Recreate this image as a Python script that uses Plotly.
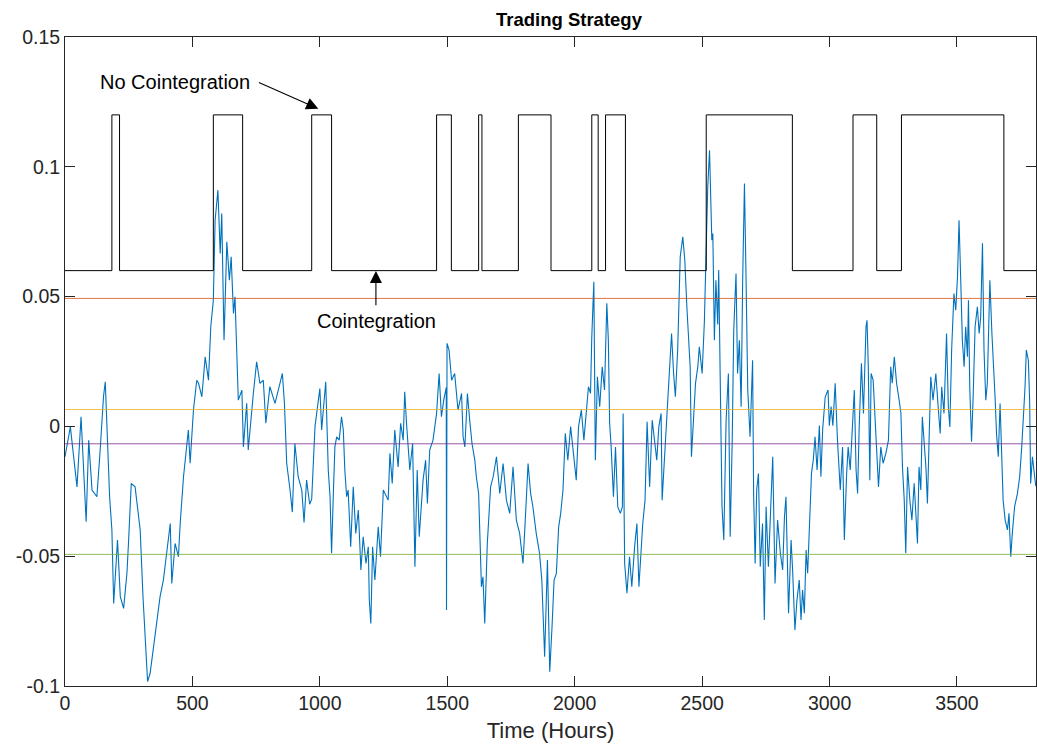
import plotly.graph_objects as go

# ---- data ----
hours = [0, 21, 47, 63, 83, 93, 106, 125, 138, 151, 158, 165, 175, 184, 191, 206, 217, 230, 243, 249,
         260, 275, 289, 295, 306, 315, 324, 334, 373, 386, 413, 419, 432, 445, 452, 465, 484, 491, 504, 517,
         524, 537, 550, 563, 572, 582, 589, 600, 609, 615, 624, 635, 645, 652, 661, 667, 674, 680, 694, 700,
         713, 719, 739, 752, 765, 778, 788, 804, 824, 837, 853, 861, 870, 883, 892, 902, 915, 929, 938, 948,
         960, 968, 981, 1000, 1007, 1023, 1033, 1040, 1046, 1053, 1059, 1066, 1076, 1085, 1092, 1098, 1105, 1111, 1121, 1131,
         1141, 1151, 1161, 1170, 1181, 1190, 1194, 1200, 1207, 1216, 1229, 1238, 1249, 1268, 1275, 1284, 1294, 1307, 1317, 1327,
         1333, 1340, 1353, 1364, 1373, 1382, 1390, 1405, 1415, 1422, 1431, 1444, 1458, 1468, 1477, 1486, 1496, 1497, 1499, 1507,
         1517, 1529, 1542, 1556, 1562, 1569, 1579, 1588, 1597, 1608, 1614, 1623, 1634, 1640, 1647, 1657, 1663, 1670, 1680, 1693,
         1706, 1719, 1732, 1745, 1758, 1771, 1784, 1797, 1806, 1817, 1827, 1836, 1849, 1862, 1871, 1882, 1893, 1902, 1911, 1919,
         1928, 1937, 1945, 1954, 1963, 1973, 1984, 1993, 2006, 2015, 2026, 2036, 2045, 2054, 2062, 2067, 2075, 2081, 2089, 2098,
         2108, 2117, 2126, 2132, 2137, 2143, 2152, 2160, 2169, 2179, 2187, 2190, 2196, 2205, 2215, 2224, 2235, 2244, 2252, 2261,
         2267, 2276, 2284, 2294, 2304, 2313, 2322, 2330, 2339, 2343, 2352, 2361, 2372, 2380, 2388, 2395, 2404, 2414, 2424, 2432,
         2440, 2447, 2453, 2458, 2466, 2474, 2483, 2489, 2500, 2509, 2516, 2522, 2529, 2538, 2542, 2548, 2554, 2561, 2565, 2571,
         2578, 2585, 2594, 2603, 2610, 2618, 2624, 2633, 2639, 2646, 2653, 2659, 2666, 2672, 2679, 2688, 2694, 2698, 2702, 2708,
         2714, 2721, 2728, 2737, 2744, 2751, 2760, 2768, 2777, 2786, 2796, 2807, 2816, 2823, 2829, 2839, 2849, 2855, 2864, 2872,
         2881, 2888, 2894, 2901, 2908, 2914, 2920, 2929, 2936, 2943, 2951, 2960, 2966, 2973, 2983, 2994, 2999, 3006, 3013, 3022,
         3031, 3042, 3051, 3058, 3067, 3073, 3081, 3090, 3097, 3104, 3110, 3116, 3125, 3133, 3143, 3147, 3152, 3158, 3163, 3171,
         3182, 3192, 3201, 3210, 3221, 3231, 3240, 3246, 3254, 3263, 3273, 3280, 3286, 3293, 3299, 3306, 3315, 3323, 3332, 3338,
         3345, 3351, 3358, 3364, 3371, 3378, 3384, 3391, 3397, 3406, 3417, 3426, 3434, 3440, 3449, 3459, 3466, 3472, 3479, 3488,
         3495, 3502, 3508, 3515, 3521, 3528, 3534, 3541, 3545, 3550, 3557, 3563, 3571, 3580, 3587, 3593, 3600, 3606, 3613, 3619,
         3629, 3637, 3644, 3650, 3655, 3662, 3669, 3676, 3681, 3689, 3698, 3704, 3711, 3717, 3726, 3737, 3746, 3754, 3760, 3767,
         3772, 3780, 3785, 3789, 3796, 3802, 3809]

spread = [-0.0117, -0.0002, -0.0233, 0.0037, -0.0367, -0.0053, -0.0245, -0.0271, -0.0091, 0.0114, 0.0172, -0.0014, -0.0271, -0.0399, -0.0682, -0.0438, -0.0656, -0.0701, -0.0566, -0.0451,
          -0.0220, -0.0233, -0.0348, -0.0399, -0.0656, -0.0823, -0.0983, -0.0951, -0.0656, -0.0592, -0.0374, -0.0605, -0.0451, -0.0502, -0.0374, -0.0194, -0.0014, -0.0142, 0.0063, 0.0178,
          0.0166, 0.0114, 0.0268, 0.0178, 0.0384, 0.0486, 0.0794, 0.0910, 0.0666, 0.0820, 0.0332, 0.0711, 0.0563, 0.0653, 0.0435, 0.0499, 0.0320, 0.0101, 0.0140, -0.0079,
          0.0089, -0.0091, 0.0127, 0.0249, 0.0166, 0.0178, 0.0012, 0.0153, 0.0089, 0.0140, 0.0204, 0.0089, -0.0143, -0.0245, -0.0330, -0.0066, -0.0194, -0.0245, -0.0370, -0.0207,
          -0.0300, -0.0280, 0.0000, 0.0146, -0.0014, 0.0172, -0.0168, -0.0271, -0.0489, -0.0258, -0.0079, -0.0040, -0.0053, 0.0037, -0.0014, -0.0168, -0.0271, -0.0245, -0.0464, -0.0233,
          -0.0412, -0.0322, -0.0553, -0.0425, -0.0528, -0.0464, -0.0669, -0.0759, -0.0464, -0.0592, -0.0387, -0.0502, -0.0245, -0.0284, -0.0104, -0.0220, -0.0014, -0.0156, 0.0012, -0.0053,
          0.0133, 0.0012, -0.0168, -0.0066, -0.0541, -0.0168, -0.0425, -0.0207, -0.0130, -0.0297, -0.0091, -0.0053, 0.0050, 0.0204, 0.0037, 0.0101, 0.0150, -0.0707, 0.0320, 0.0294,
          0.0178, 0.0204, 0.0063, 0.0127, -0.0040, -0.0079, 0.0127, 0.0024, -0.0066, -0.0130, -0.0194, -0.0258, -0.0618, -0.0579, -0.0759, -0.0451, -0.0322, -0.0233, -0.0194, -0.0117,
          -0.0258, -0.0143, -0.0284, -0.0335, -0.0156, -0.0361, -0.0412, -0.0528, -0.0361, -0.0143, -0.0258, -0.0310, -0.0412, -0.0489, -0.0592, -0.0887, -0.0515, -0.0945, -0.0772, -0.0592,
          -0.0566, -0.0387, -0.0335, -0.0245, -0.0027, -0.0130, -0.0001, -0.0079, -0.0207, -0.0001, 0.0063, -0.0053, 0.0050, 0.0153, 0.0127, 0.0345, 0.0557, -0.0130, 0.0191, 0.0076,
          0.0230, 0.0140, 0.0474, 0.0332, 0.0012, -0.0079, -0.0271, -0.0079, -0.0310, -0.0335, -0.0310, 0.0050, -0.0528, -0.0643, -0.0502, -0.0618, -0.0464, -0.0374, -0.0618, -0.0476,
          -0.0374, -0.0284, 0.0018, -0.0233, 0.0024, -0.0053, -0.0130, -0.0002, 0.0050, -0.0284, -0.0130, 0.0024, 0.0217, 0.0358, 0.0204, 0.0114, 0.0294, 0.0653, 0.0730, 0.0640,
          0.0461, 0.0320, 0.0230, -0.0117, 0.0050, 0.0166, 0.0230, 0.0307, 0.0204, 0.0409, 0.0692, 0.0923, 0.1064, 0.0717, 0.0743, 0.0332, 0.0563, 0.0393, 0.0602, 0.0255,
          -0.0310, -0.0438, 0.0024, 0.0204, -0.0425, -0.0053, 0.0371, 0.0589, 0.0204, 0.0332, 0.0076, 0.0563, 0.0936, 0.0589, 0.0140, -0.0040, 0.0204, 0.0255, -0.0258, -0.0528,
          -0.0245, -0.0181, -0.0541, -0.0374, -0.0746, -0.0310, -0.0541, -0.0310, -0.0117, -0.0605, -0.0361, -0.0489, -0.0553, -0.0348, -0.0271, -0.0720, -0.0438, -0.0553, -0.0784, -0.0669,
          -0.0592, -0.0746, -0.0630, -0.0720, -0.0476, -0.0566, -0.0399, -0.0181, -0.0130, -0.0040, -0.0168, 0.0003, -0.0194, -0.0010, 0.0114, 0.0140, 0.0003, 0.0076, 0.0003, 0.0166,
          -0.0053, -0.0245, -0.0079, -0.0438, -0.0181, -0.0079, -0.0168, -0.0010, 0.0140, -0.0168, -0.0258, -0.0010, 0.0243, 0.0050, 0.0384, 0.0409, 0.0230, -0.0207, 0.0204, 0.0178,
          -0.0053, -0.0233, -0.0079, -0.0142, -0.0104, -0.0053, 0.0230, 0.0166, 0.0268, 0.0166, 0.0101, 0.0050, -0.0156, -0.0284, -0.0489, -0.0156, -0.0284, -0.0361, -0.0219, -0.0310,
          -0.0451, -0.0156, -0.0245, 0.0037, -0.0053, -0.0156, -0.0297, -0.0002, 0.0191, 0.0101, 0.0204, 0.0076, -0.0027, 0.0153, 0.0050, 0.0358, 0.0076, -0.0002, 0.0294, 0.0512,
          0.0448, 0.0576, 0.0794, 0.0551, 0.0332, 0.0230, 0.0384, 0.0268, 0.0486, 0.0153, -0.0059, 0.0101, 0.0384, 0.0461, 0.0358, 0.0422, 0.0705, 0.0294, 0.0101, 0.0166,
          0.0563, 0.0358, 0.0230, 0.0101, -0.0027, -0.0117, 0.0088, -0.0156, -0.0284, -0.0361, -0.0399, -0.0335, -0.0502, -0.0412, -0.0310, -0.0259, -0.0194, -0.0079, 0.0024, 0.0153,
          0.0294, 0.0255, 0.0101, -0.0220, -0.0117, -0.0181, -0.0230]

# Regime indicator (0.06 = cointegration, 0.12 = no cointegration)
regime_hours = [0, 184, 214, 582, 697, 968, 1046, 1458, 1516, 1623, 1636, 1779, 1907,
                2067, 2092, 2121, 2199, 2516, 2854, 3092, 3185, 3282, 3684, 3810]
regime_level = [0.06, 0.12, 0.06, 0.12, 0.06, 0.12, 0.06, 0.12, 0.06, 0.12, 0.06, 0.12, 0.06,
                 0.12, 0.06, 0.12, 0.06, 0.12, 0.06, 0.12, 0.06, 0.12, 0.06, 0.06]

# Threshold levels
threshold_names = ["upper exit", "upper entry", "lower entry", "lower exit"]
threshold_values = [0.0493, 0.0065, -0.0067, -0.0493]
threshold_colors = ["#D95319", "#EDB120", "#7E2F8E", "#77AC30"]

x_range = [0, 3810]
y_range = [-0.1, 0.15]
x_ticks = [0, 500, 1000, 1500, 2000, 2500, 3000, 3500]
y_ticks = [-0.1, -0.05, 0, 0.05, 0.1, 0.15]
y_ticktext = ["-0.1", "-0.05", "0", "0.05", "0.1", "0.15"]

AX = "#262626"
FONT = "Liberation Sans, Arial, Helvetica, sans-serif"

fig = go.Figure()
fig.add_trace(go.Scatter(x=hours, y=spread, mode="lines",
                         line=dict(color="#0072BD", width=1.1), showlegend=False))
for name, val, col in zip(threshold_names, threshold_values, threshold_colors):
    fig.add_trace(go.Scatter(x=x_range, y=[val, val], mode="lines", name=name, opacity=0.8,
                             line=dict(color=col, width=1), showlegend=False))
fig.add_trace(go.Scatter(x=regime_hours, y=regime_level, mode="lines", line_shape="hv",
                         line=dict(color="#000000", width=1), showlegend=False))

# Annotations
fig.add_annotation(x=432, y=0.1326, text="No Cointegration", showarrow=False,
                   font=dict(size=20, color="#000000", family=FONT), xanchor="center", yanchor="middle")
fig.add_annotation(x=994, y=0.1224, ax=755, ay=0.1327, axref="x", ayref="y",
                   text="", showarrow=True, arrowhead=2, arrowsize=2.2, arrowwidth=1.1,
                   arrowcolor="#000000", standoff=0, startstandoff=0)
fig.add_annotation(x=1222, y=0.0407, text="Cointegration", showarrow=False,
                   font=dict(size=20, color="#000000", family=FONT), xanchor="center", yanchor="middle")
fig.add_annotation(x=1220, y=0.0599, ax=1220, ay=0.0461, axref="x", ayref="y",
                   text="", showarrow=True, arrowhead=2, arrowsize=2.2, arrowwidth=1.1,
                   arrowcolor="#000000", standoff=0, startstandoff=0)

fig.update_layout(
    width=1037, height=749,
    margin=dict(l=65, r=1, t=37, b=63),
    paper_bgcolor="white", plot_bgcolor="white",
    font=dict(family=FONT, color=AX, size=19),
    title=dict(text="<b>Trading Strategy</b>", x=0.519, xref="paper", xanchor="center",
               y=1 - 20 / 749, yref="container", yanchor="middle",
               font=dict(size=18.5, color="#000000", family=FONT)),
    showlegend=False,
)
fig.update_xaxes(range=x_range, tickvals=x_ticks, ticks="inside", ticklen=10, tickwidth=1,
                 tickcolor=AX, showline=True, linecolor=AX, linewidth=1, mirror="ticks",
                 showgrid=False, zeroline=False,
                 title=dict(text="Time (Hours)", font=dict(size=22, color=AX, family=FONT), standoff=9),
                 tickfont=dict(size=19.5, color=AX, family=FONT))
fig.update_yaxes(range=y_range, tickvals=y_ticks, ticktext=y_ticktext, ticks="inside", ticklen=10,
                 tickwidth=1, tickcolor=AX, showline=True, linecolor=AX, linewidth=1, mirror="ticks",
                 showgrid=False, zeroline=False,
                 tickfont=dict(size=19.5, color=AX, family=FONT))

fig.write_html("out.html", config={"displayModeBar": False},
               post_script="document.body.style.margin='0';document.body.style.padding='0';"
                           "document.body.style.overflow='hidden';")
